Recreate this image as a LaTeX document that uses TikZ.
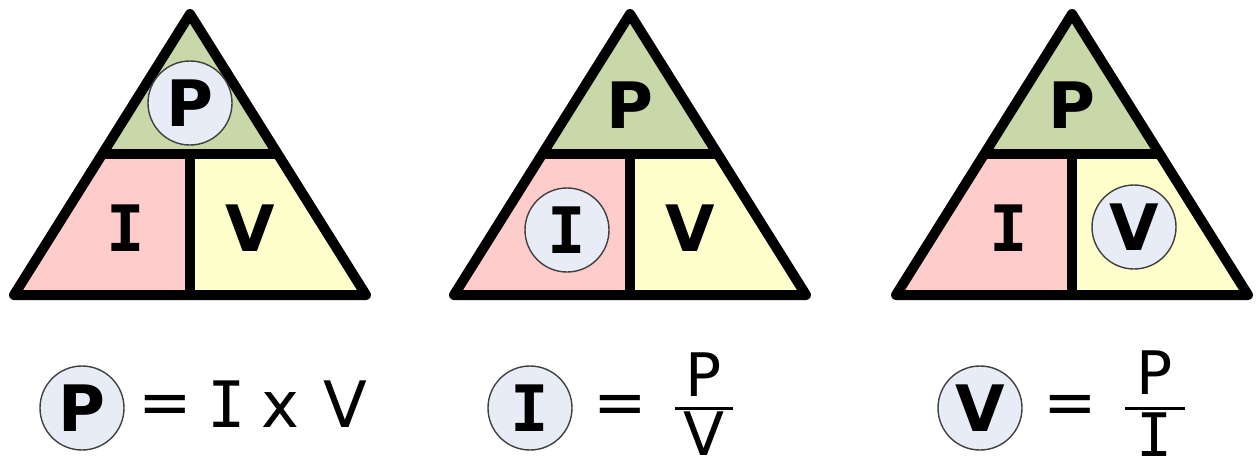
\documentclass[tikz,border=0pt]{standalone}
\usepackage{fontspec}
\setmainfont{DejaVu Sans}
\newfontfamily\serifI{DejaVu Sans Mono}
\usetikzlibrary{positioning}
\definecolor{topgreen}{RGB}{200,216,168}
\definecolor{leftpink}{RGB}{255,204,204}
\definecolor{rightyellow}{RGB}{255,255,204}
\definecolor{ringfill}{RGB}{232,236,246}

\begin{document}
\begin{tikzpicture}[
  x=0.5pt, y=-0.5pt,
  every node/.style={inner sep=0pt},
  boldletter/.style={font=\bfseries\fontsize{32}{32}\selectfont},
  lightletter/.style={font=\fontsize{32}{32}\selectfont},
  fracletter/.style={font=\fontsize{30}{30}\selectfont},
  ring/.style={circle, draw=black!75, line width=0.7pt, fill=ringfill, minimum size=42pt, font=\bfseries\fontsize{32}{32}\selectfont},
  outline/.style={line width=5pt, line join=round},
  fracbar/.style={line width=1.5pt}
]
  \useasboundingbox (0,0) rectangle (1257,472);

  % triangle 1: P circled
  \begin{scope}[shift={(190,0)}]
    \fill[topgreen] (0,14) -- (-88,154) -- (88,154) -- cycle;
    \fill[leftpink] (-88,154) -- (0,154) -- (0,295) -- (-176,295) -- cycle;
    \fill[rightyellow] (0,154) -- (88,154) -- (176,295) -- (0,295) -- cycle;
    \draw[outline] (0,14) -- (-176,295) -- (176,295) -- cycle;
    \draw[outline] (-88,154) -- (88,154) (0,154) -- (0,295);
    \node[ring] (p1) at (0,103) {P};
    \node[boldletter] (i1) at (-64,228) {\serifI I};
    \node[boldletter] (v1) at (60,228) {V};
  \end{scope}

  % triangle 2: I circled
  \begin{scope}[shift={(630,0)}]
    \fill[topgreen] (0,14) -- (-88,154) -- (88,154) -- cycle;
    \fill[leftpink] (-88,154) -- (0,154) -- (0,295) -- (-176,295) -- cycle;
    \fill[rightyellow] (0,154) -- (88,154) -- (176,295) -- (0,295) -- cycle;
    \draw[outline] (0,14) -- (-176,295) -- (176,295) -- cycle;
    \draw[outline] (-88,154) -- (88,154) (0,154) -- (0,295);
    \node[boldletter] (p2) at (0,105) {P};
    \node[ring] (i2) at (-63,230) {\serifI I};
    \node[boldletter] (v2) at (60,228) {V};
  \end{scope}

  % triangle 3: V circled
  \begin{scope}[shift={(1072,0)}]
    \fill[topgreen] (0,14) -- (-88,154) -- (88,154) -- cycle;
    \fill[leftpink] (-88,154) -- (0,154) -- (0,295) -- (-176,295) -- cycle;
    \fill[rightyellow] (0,154) -- (88,154) -- (176,295) -- (0,295) -- cycle;
    \draw[outline] (0,14) -- (-176,295) -- (176,295) -- cycle;
    \draw[outline] (-88,154) -- (88,154) (0,154) -- (0,295);
    \node[boldletter] (p3) at (0,105) {P};
    \node[boldletter] (i3) at (-63,228) {\serifI I};
    \node[ring] (v3) at (62,227) {V};
  \end{scope}

  % formulas
  \node[ring] (fp) at (82,408) {P};
  \node[lightletter] (eqa) at (165,410) {=};
  \node[lightletter, anchor=base] (ra) at (227,427) {\serifI I};
  \node[lightletter, anchor=base] (xa) at (280,427) {x};
  \node[lightletter, anchor=base] (va) at (345,427) {V};

  \node[ring] (fi) at (530,408) {\serifI I};
  \node[lightletter] (eqb) at (620,410) {=};
  \node[fracletter] (nb) at (704,375) {P};
  \node[fracletter] (db) at (704,434) {V};
  \draw[fracbar] (675,408) -- (733,408);

  \node[ring] (fv) at (980,408) {V};
  \node[lightletter] (eqc) at (1070,410) {=};
  \node[fracletter] (nc) at (1155,373) {P};
  \node[fracletter] (dc) at (1155,435) {\serifI I};
  \draw[fracbar] (1125,408) -- (1185,408);
\end{tikzpicture}
\end{document}
